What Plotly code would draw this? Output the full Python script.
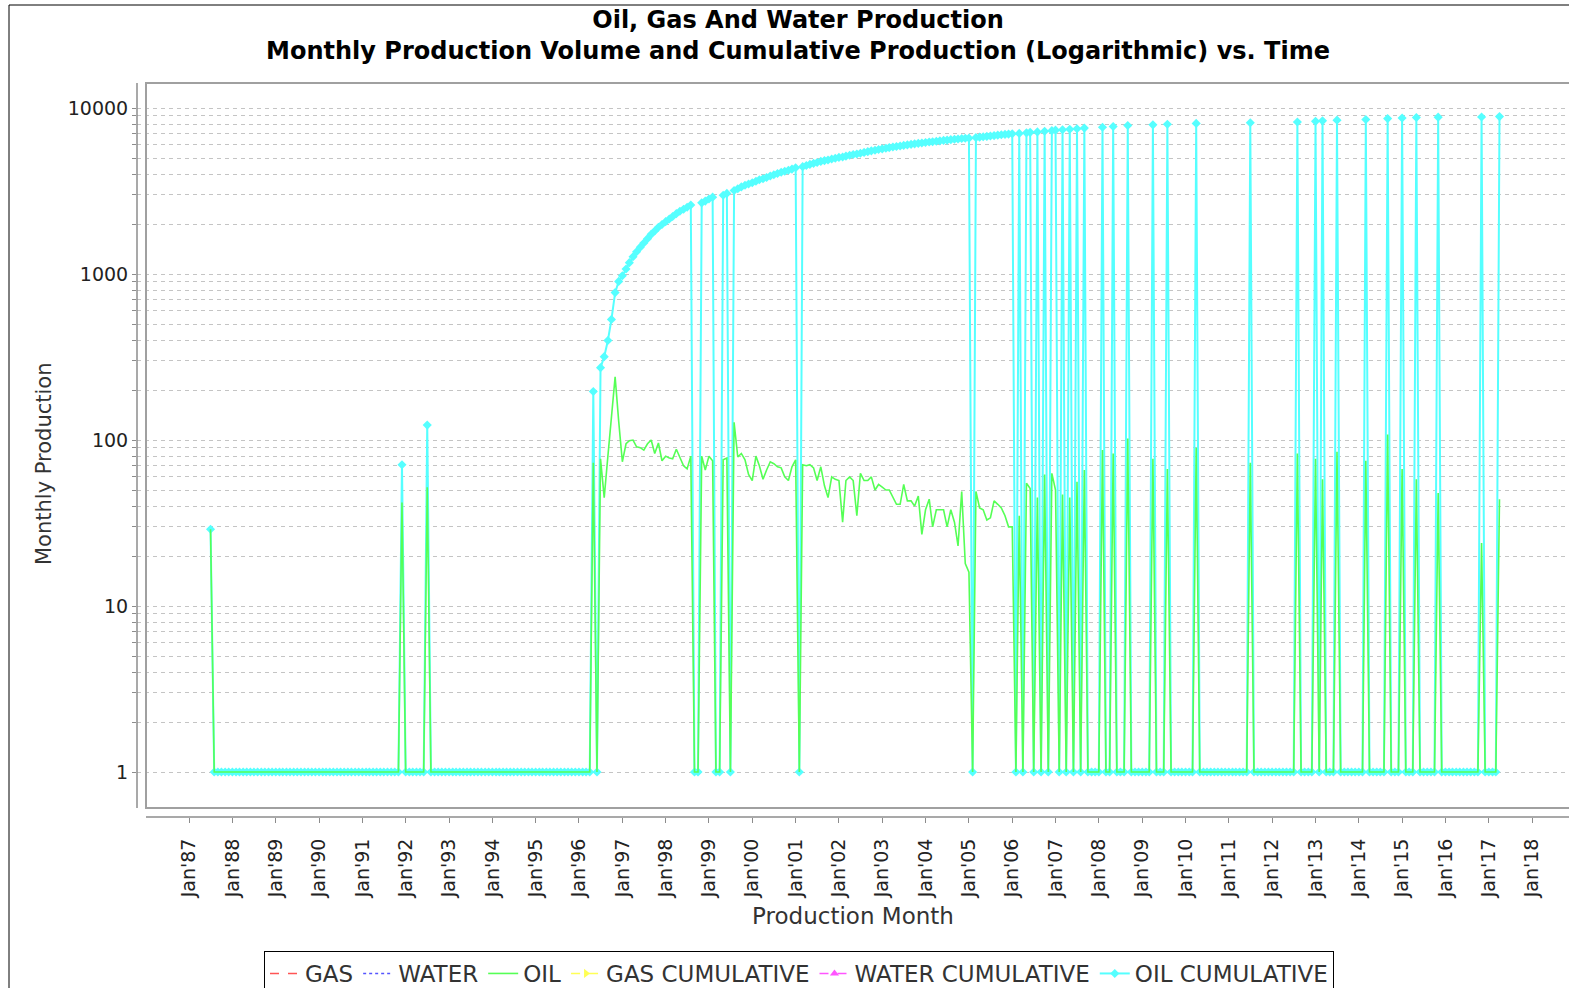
import pandas as pd
import plotly.graph_objects as go

# ---------------- data ----------------
first_month = "1987-07-01"
last_month = "2017-04-01"

# Monthly oil production; months without production are drawn at the log floor (1)
oil_1987 = [29, 1, 1, 1, 1, 1]
oil_1988 = [1, 1, 1, 1, 1, 1, 1, 1, 1, 1, 1, 1]
oil_1989 = [1, 1, 1, 1, 1, 1, 1, 1, 1, 1, 1, 1]
oil_1990 = [1, 1, 1, 1, 1, 1, 1, 1, 1, 1, 1, 1]
oil_1991 = [1, 1, 1, 1, 1, 1, 1, 1, 1, 1, 1, 42]
oil_1992 = [1, 1, 1, 1, 1, 1, 52, 1, 1, 1, 1, 1]
oil_1993 = [1, 1, 1, 1, 1, 1, 1, 1, 1, 1, 1, 1]
oil_1994 = [1, 1, 1, 1, 1, 1, 1, 1, 1, 1, 1, 1]
oil_1995 = [1, 1, 1, 1, 1, 1, 1, 1, 1, 1, 1, 1]
oil_1996 = [1, 1, 1, 1, 73, 1, 77, 45, 80, 135, 240, 130]
oil_1997 = [74, 95, 99, 100, 91, 90, 87, 95, 100, 83, 96, 75]
oil_1998 = [80, 78, 77, 88, 78, 70, 67, 80, 1, 1, 80, 66]
oil_1999 = [80, 75, 1, 1, 76, 78, 1, 128, 79, 83, 76, 62]
oil_2000 = [57, 80, 70, 58, 66, 74, 72, 69, 68, 60, 57, 69]
oil_2001 = [76, 1, 71, 70, 71, 68, 57, 69, 53, 45, 60, 58]
oil_2002 = [57, 32, 57, 60, 57, 35, 63, 57, 57, 60, 50, 54]
oil_2003 = [52, 50, 50, 45, 41, 41, 54, 43, 43, 40, 46, 27]
oil_2004 = [38, 44, 30, 38, 38, 38, 30, 38, 32, 23, 49, 18]
oil_2005 = [16, 1, 49, 39, 38, 33, 34, 43, 41, 39, 35, 30]
oil_2006 = [30, 1, 35, 1, 55, 51, 1, 45, 1, 62, 1, 63]
oil_2007 = [50, 1, 47, 1, 45, 1, 56, 1, 66, 1, 1, 1]
oil_2008 = [1, 87, 1, 1, 83, 1, 1, 1, 102, 1, 1, 1]
oil_2009 = [1, 1, 1, 77, 1, 1, 1, 67, 1, 1, 1, 1]
oil_2010 = [1, 1, 1, 90, 1, 1, 1, 1, 1, 1, 1, 1]
oil_2011 = [1, 1, 1, 1, 1, 1, 73, 1, 1, 1, 1, 1]
oil_2012 = [1, 1, 1, 1, 1, 1, 1, 83, 1, 1, 1, 1]
oil_2013 = [77, 1, 58, 1, 1, 1, 85, 1, 1, 1, 1, 1]
oil_2014 = [1, 1, 75, 1, 1, 1, 1, 1, 108, 1, 1, 1]
oil_2015 = [67, 1, 1, 1, 58, 1, 1, 1, 1, 1, 48, 1]
oil_2016 = [1, 1, 1, 1, 1, 1, 1, 1, 1, 1, 24, 1]
oil_2017 = [1, 1, 1, 44]

# Oil cumulative as drawn (drops to the floor in months without production)
cum_1987 = [29, 1, 1, 1, 1, 1]
cum_1988 = [1, 1, 1, 1, 1, 1, 1, 1, 1, 1, 1, 1]
cum_1989 = [1, 1, 1, 1, 1, 1, 1, 1, 1, 1, 1, 1]
cum_1990 = [1, 1, 1, 1, 1, 1, 1, 1, 1, 1, 1, 1]
cum_1991 = [1, 1, 1, 1, 1, 1, 1, 1, 1, 1, 1, 71]
cum_1992 = [1, 1, 1, 1, 1, 1, 123, 1, 1, 1, 1, 1]
cum_1993 = [1, 1, 1, 1, 1, 1, 1, 1, 1, 1, 1, 1]
cum_1994 = [1, 1, 1, 1, 1, 1, 1, 1, 1, 1, 1, 1]
cum_1995 = [1, 1, 1, 1, 1, 1, 1, 1, 1, 1, 1, 1]
cum_1996 = [1, 1, 1, 1, 196, 1, 273, 318, 398, 533, 773, 903]
cum_1997 = [977, 1072, 1171, 1271, 1362, 1452, 1539, 1634, 1734, 1817, 1913, 1988]
cum_1998 = [2068, 2146, 2223, 2311, 2389, 2459, 2526, 2606, 1, 1, 2686, 2752]
cum_1999 = [2832, 2907, 1, 1, 2983, 3061, 1, 3189, 3268, 3351, 3427, 3489]
cum_2000 = [3546, 3626, 3696, 3754, 3820, 3894, 3966, 4035, 4103, 4163, 4220, 4289]
cum_2001 = [4365, 1, 4436, 4506, 4577, 4645, 4702, 4771, 4824, 4869, 4929, 4987]
cum_2002 = [5044, 5076, 5133, 5193, 5250, 5285, 5348, 5405, 5462, 5522, 5572, 5626]
cum_2003 = [5678, 5728, 5778, 5823, 5864, 5905, 5959, 6002, 6045, 6085, 6131, 6158]
cum_2004 = [6196, 6240, 6270, 6308, 6346, 6384, 6414, 6452, 6484, 6507, 6556, 6574]
cum_2005 = [6590, 1, 6639, 6678, 6716, 6749, 6783, 6826, 6867, 6906, 6941, 6971]
cum_2006 = [7001, 1, 7036, 1, 7091, 7142, 1, 7187, 1, 7249, 1, 7312]
cum_2007 = [7362, 1, 7409, 1, 7454, 1, 7510, 1, 7576, 1, 1, 1]
cum_2008 = [1, 7663, 1, 1, 7746, 1, 1, 1, 7848, 1, 1, 1]
cum_2009 = [1, 1, 1, 7925, 1, 1, 1, 7992, 1, 1, 1, 1]
cum_2010 = [1, 1, 1, 8082, 1, 1, 1, 1, 1, 1, 1, 1]
cum_2011 = [1, 1, 1, 1, 1, 1, 8155, 1, 1, 1, 1, 1]
cum_2012 = [1, 1, 1, 1, 1, 1, 1, 8238, 1, 1, 1, 1]
cum_2013 = [8315, 1, 8373, 1, 1, 1, 8458, 1, 1, 1, 1, 1]
cum_2014 = [1, 1, 8533, 1, 1, 1, 1, 1, 8641, 1, 1, 1]
cum_2015 = [8708, 1, 1, 1, 8766, 1, 1, 1, 1, 1, 8814, 1]
cum_2016 = [1, 1, 1, 1, 1, 1, 1, 1, 1, 1, 8838, 1]
cum_2017 = [1, 1, 1, 8882]

# Gas and water have no reported values (legend entries only)
gas = [None]
water = [None]
gas_cum = [None]
water_cum = [None]

y_decades = [1, 10, 100, 1000, 10000]
y_decade_labels = ["1", "10", "100", "1000", "10000"]
x_tick_years = list(range(1987, 2019))

series_names = ["GAS", "WATER", "OIL", "GAS CUMULATIVE", "WATER CUMULATIVE", "OIL CUMULATIVE"]
series_colors = ["#FF5555", "#5555FF", "#55FF55", "#FFFF55", "#FF55FF", "#55FFFF"]

# ---------------- assemble ----------------
oil_years = [oil_1987, oil_1988, oil_1989, oil_1990, oil_1991, oil_1992, oil_1993, oil_1994,
             oil_1995, oil_1996, oil_1997, oil_1998, oil_1999, oil_2000, oil_2001, oil_2002,
             oil_2003, oil_2004, oil_2005, oil_2006, oil_2007, oil_2008, oil_2009, oil_2010,
             oil_2011, oil_2012, oil_2013, oil_2014, oil_2015, oil_2016, oil_2017]
cum_years = [cum_1987, cum_1988, cum_1989, cum_1990, cum_1991, cum_1992, cum_1993, cum_1994,
             cum_1995, cum_1996, cum_1997, cum_1998, cum_1999, cum_2000, cum_2001, cum_2002,
             cum_2003, cum_2004, cum_2005, cum_2006, cum_2007, cum_2008, cum_2009, cum_2010,
             cum_2011, cum_2012, cum_2013, cum_2014, cum_2015, cum_2016, cum_2017]
oil = [v for yr in oil_years for v in yr]
oil_cum = [v for yr in cum_years for v in yr]
months = pd.date_range(first_month, last_month, freq="MS")
no_data_x = [pd.Timestamp(first_month)]

y_tick_vals, y_tick_text = [], []
for d, lab in zip(y_decades, y_decade_labels):
    for k in range(1, 10):
        if d == 10000 and k > 1:
            break
        y_tick_vals.append(d * k)
        y_tick_text.append(lab if k == 1 else "")

x_tick_vals = [f"{y}-01-01" for y in x_tick_years]

FONT = "DejaVu Sans"

fig = go.Figure()
# draw order: cumulative series first so OIL sits on top (as in the reference)
fig.add_trace(go.Scatter(x=months, y=oil_cum, name=series_names[5], mode="lines+markers",
                         line=dict(color=series_colors[5], width=2),
                         marker=dict(symbol="diamond", size=7, color=series_colors[5]),
                         legendrank=6))
fig.add_trace(go.Scatter(x=no_data_x, y=gas_cum, name=series_names[3], mode="lines+markers",
                         line=dict(color=series_colors[3], width=1.5, dash="dash"),
                         marker=dict(symbol="triangle-right", size=8, color=series_colors[3]),
                         legendrank=4))
fig.add_trace(go.Scatter(x=no_data_x, y=water_cum, name=series_names[4], mode="lines+markers",
                         line=dict(color=series_colors[4], width=1.5, dash="dash"),
                         marker=dict(symbol="triangle-up", size=8, color=series_colors[4]),
                         legendrank=5))
fig.add_trace(go.Scatter(x=no_data_x, y=gas, name=series_names[0], mode="lines",
                         line=dict(color=series_colors[0], width=1.5, dash="dash"),
                         legendrank=1))
fig.add_trace(go.Scatter(x=no_data_x, y=water, name=series_names[1], mode="lines",
                         line=dict(color=series_colors[1], width=1.5, dash="dot"),
                         legendrank=2))
fig.add_trace(go.Scatter(x=months, y=oil, name=series_names[2], mode="lines",
                         line=dict(color=series_colors[2], width=1.6),
                         legendrank=3))

# layout geometry helpers (plot area: x 137..1569, y 83..817 px)
L, R, T, B = 137, 1569, 83, 817
def px_x(p):
    return (p - L) / (R - L)
def px_y(p):
    return (B - p) / (B - T)

grid_col = "#c4c4c4"
axis_col = "#8c8c8c"

fig.update_layout(
    width=1569, height=988,
    margin=dict(l=L, r=1569 - R, t=T, b=988 - B),
    paper_bgcolor="white", plot_bgcolor="white",
    font=dict(family=FONT, color="#222222"),
    title=dict(
        text="Oil, Gas And Water Production<br>Monthly Production Volume and Cumulative Production (Logarithmic) vs. Time",
        font=dict(family=FONT, size=24, color="black", weight="bold"),
        x=798 / 1569, xanchor="center", xref="container",
        y=1 - 28 / 988, yanchor="middle", yref="container"),
    showlegend=True,
    legend=dict(orientation="h", x=px_x(799), xanchor="center", xref="paper",
                y=1 - 951 / 988, yanchor="top", yref="container",
                bordercolor="black", borderwidth=1, bgcolor="white",
                font=dict(family=FONT, size=23, color="#333333"),
                itemwidth=30, tracegroupgap=0),
    xaxis=dict(type="date", range=["1985-10-19", "2018-11-08"],
               tickvals=x_tick_vals, tickformat="%b'%y", tickangle=-90,
               ticks="outside", ticklen=5, tickcolor=axis_col, tickwidth=1,
               ticklabelstandoff=8,
               tickfont=dict(family=FONT, size=19, color="#222222"),
               showgrid=False, zeroline=False, showline=False, automargin=False,
               title=dict(text="Production Month", standoff=10,
                          font=dict(family=FONT, size=23, color="#333333"))),
    yaxis=dict(type="log", range=[-0.271, 4.151],
               tickvals=y_tick_vals, ticktext=y_tick_text,
               ticks="outside", ticklen=4, tickcolor=axis_col, tickwidth=1,
               tickfont=dict(family=FONT, size=19, color="#222222"),
               showgrid=True, gridcolor=grid_col, gridwidth=1, griddash="4px,4px",
               zeroline=False, showline=False, automargin=False),
    annotations=[
        dict(text="Monthly Production", textangle=-90, showarrow=False,
             xref="paper", yref="paper", x=px_x(44), y=px_y(464),
             xanchor="center", yanchor="middle",
             font=dict(family=FONT, size=21, color="#333333")),
    ],
    shapes=[
        # outer chart frame
        dict(type="rect", xref="paper", yref="paper", x0=px_x(9), x1=px_x(1700),
             y0=px_y(1100), y1=px_y(5), line=dict(color="black", width=1)),
        # plot box
        dict(type="rect", xref="paper", yref="paper", x0=px_x(146), x1=px_x(1700),
             y0=px_y(808), y1=px_y(83), line=dict(color="#a0a0a0", width=2)),
        # offset axis lines
        dict(type="line", xref="paper", yref="paper", x0=px_x(137), x1=px_x(137),
             y0=px_y(808), y1=px_y(83), line=dict(color=axis_col, width=1.5)),
        dict(type="line", xref="paper", yref="paper", x0=px_x(146), x1=px_x(1700),
             y0=px_y(817), y1=px_y(817), line=dict(color=axis_col, width=1.5)),
    ],
)

fig.write_html("out.html", config=dict(displayModeBar=False),
               post_script="document.body.style.margin='0px';")
